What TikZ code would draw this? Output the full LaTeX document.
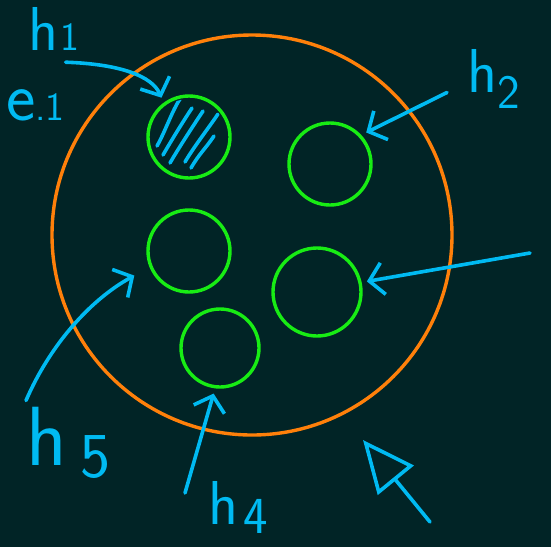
\documentclass[tikz,border=0pt]{standalone}
\usetikzlibrary{arrows.meta}
\definecolor{bgteal}{RGB}{1,36,38}
\definecolor{ink}{RGB}{0,186,242}
\definecolor{rim}{RGB}{255,128,10}
\definecolor{cell}{RGB}{24,236,20}
% handwritten h with its number
\newcommand{\hname}[4]{h\hspace{#1}\raisebox{-#3}{\fontsize{#4}{#4}\selectfont #2}}

\begin{document}
\begin{tikzpicture}[x=1pt,y=-1pt,
    hole/.style={circle,draw=cell,line width=3.4pt,inner sep=0pt,minimum size=#1,outer sep=7pt},
    lbl/.style={text=ink,font=\sffamily\fontsize{62}{62}\selectfont,inner sep=0pt,anchor=base west},
    pen/.style={ink,line width=3.6pt,line cap=round,line join=round,
      -{Straight Barb[length=14pt,width=32pt,line width=3.6pt]}}]
    \fill[bgteal] (0,0) rectangle (551,547);
    \useasboundingbox (0,0) rectangle (551,547);
    % big ring
    \draw[rim,line width=3.4pt] (252,235) circle (200);
    % small circles
    \node[hole=82pt] (hole1) at (189,137) {};
    \node[hole=82pt] (hole2) at (330,164) {};
    \node[hole=82pt] (hole3) at (189,251) {};
    \node[hole=88pt] (hole4) at (317,292) {};
    \node[hole=78pt] (hole5) at (220,348) {};
    % shading of the first one
    \begin{scope}
        \clip (189,137) circle (38);
        \foreach \xa/\ya/\xb/\yb in {157/146/180/99, 163/155/192/108, 170/163/203/111, 185/162/218/114, 191/168/214/136}
            \draw[ink,line width=3.6pt,line cap=round] (\xa,\ya) .. controls (\xa+8,\ya-14) and (\xb-8,\yb+12) .. (\xb,\yb);
    \end{scope}
    % labels
    \node[lbl] (h1) at (28,50) {\hname{2pt}{1}{0pt}{40}};
    \node[lbl] (e1) at (6,120) {\fontsize{70}{70}\selectfont e\fontsize{40}{40}\selectfont.1};
    \node[lbl] (h2) at (467,92) {\hname{0pt}{2}{16pt}{48}};
    \node[lbl,font=\sffamily\fontsize{84}{84}\selectfont] (h5) at (26,465) {\hname{14pt}{5}{12pt}{64}};
    \node[lbl] (h4) at (208,524) {\hname{5pt}{4}{9pt}{52}};
    \coordinate (h3tail) at (530,253);
    \coordinate (ptrtail) at (430,522);
    \coordinate (ptrtip) at (363,440);
    % arrows
    \draw[pen] ([shift={(12,12)}]h1.south) .. controls (120,64) and (152,76) .. (hole1.125);
    \draw[pen] ([shift={(-20,14)}]h2.west) -- (hole2.41);
    \draw[pen] (h3tail) -- (hole4.12);
    \draw[pen,shorten >=12pt] ([shift={(0,-6)}]h5.north west) .. controls (50,345) and (90,300) .. (hole3.203);
    \draw[pen] ([shift={(-23,-14)}]h4.west) -- (hole5.262);
    \draw[ink,line width=3.6pt,line cap=round,line join=round,
      -{Triangle[open,length=52pt,width=46pt,line width=3.6pt]}] (ptrtail) -- (ptrtip);
\end{tikzpicture}
\end{document}
